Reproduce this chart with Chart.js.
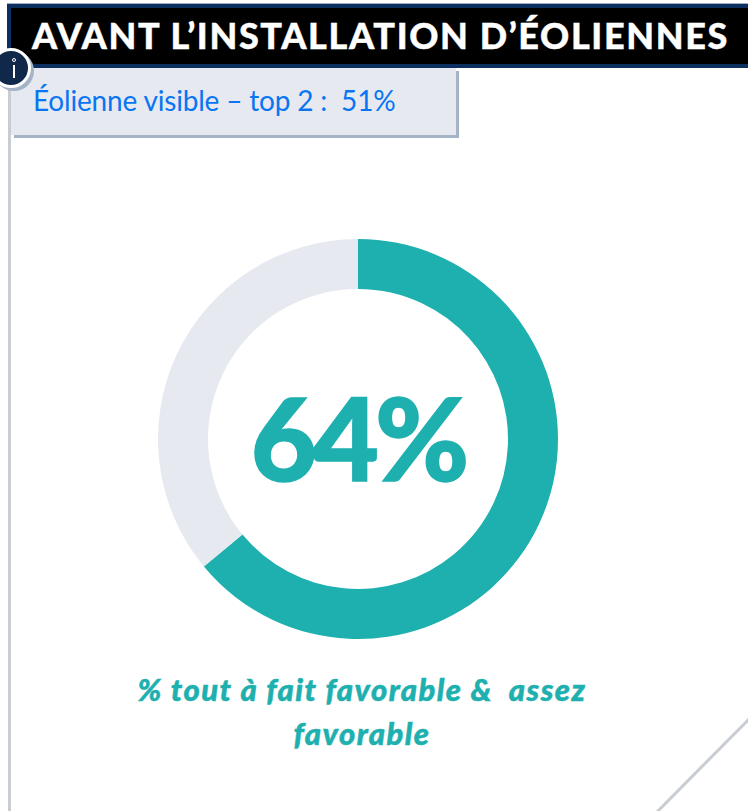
<!DOCTYPE html>
<html lang="fr"><head><meta charset="utf-8">
<script src="https://cdn.jsdelivr.net/npm/chart.js@4"></script>
<style>
html,body{margin:0;padding:0;background:#fff;width:748px;height:811px;overflow:hidden;font-family:Lato,sans-serif}
#stage{position:relative;width:748px;height:811px;overflow:hidden}
#stage>*{position:absolute}
#vline{left:8px;top:60px;width:3px;height:751px;background:#c8ccd3}
#head{left:7px;top:4px;width:741px;height:64px;box-sizing:border-box;background:#000;border-top:4px solid #0b2f5f;border-bottom:4px solid #0b2f5f;border-left:4px solid #0b2f5f;box-shadow:0 -1px 0 #9fb0c6}
#title{left:32px;top:13px;font:900 36px Lato,sans-serif;color:#fff;white-space:nowrap;letter-spacing:1.63px;-webkit-text-stroke:.4px #fff}
#sub{left:11px;top:68px;width:445px;height:67px;background:#e6e9ef;box-shadow:3px 3px 0 #a5b3c7}
#subt{left:33px;top:83px;font:400 28px Lato,sans-serif;color:#0a75f2;white-space:pre;letter-spacing:-.18px}
#info{left:-9px;top:48px;width:34px;height:34px;border-radius:50%;background:#10294a;border:3px solid #fff;box-shadow:3px 3px 0 #a5b3c7;z-index:3}
#info i{position:absolute;left:20px;top:14px;width:2px;height:13px;background:#fff;margin-left:-1px}
#info b{position:absolute;left:18px;top:7px;width:4px;height:4px;border:1px solid #fff;border-radius:50%;box-sizing:border-box}
#wrap{left:158px;top:239px;width:400px;height:400px}
#big{left:158px;width:400px;top:370px;text-align:center;font:900 114px Lato,sans-serif;color:#1eb0af;line-height:134px;letter-spacing:-4px;-webkit-text-stroke:1.5px #1eb0af}
#cap{left:62px;width:600px;top:667px;text-align:center;font:italic 900 31px/44px Lato,sans-serif;color:#1eb0af;letter-spacing:1.45px;-webkit-text-stroke:.5px #1eb0af}
#cap div{white-space:pre}
#diag{left:0;top:0}
</style></head><body>
<div id="stage">
<div id="vline"></div>
<svg id="diag" width="748" height="811"><line x1="750" y1="718" x2="656" y2="813" stroke="#c8ccd3" stroke-width="3"/></svg>
<div id="head"></div>
<div id="title"></div>
<div id="sub"></div>
<div id="subt"></div>
<div id="info"><b></b><i></i></div>
<div id="wrap"><canvas id="c" width="400" height="400"></canvas></div>
<div id="big"></div>
<div id="cap"></div>
</div>
<script>
const titleText = "AVANT L’INSTALLATION D’ÉOLIENNES";
const subtitleText = "Éolienne visible – top 2 :  51%";
const captionLines = ["% tout à fait favorable &  assez", "favorable"];
const categories = ["Favorable", "Autre"];
const values = [64, 36];
const sliceColors = ["#1eb0af", "#e6e9ef"];

document.getElementById('title').textContent = titleText;
document.getElementById('subt').textContent = subtitleText;
captionLines.forEach(function (t) {
  const d = document.createElement('div');
  d.textContent = t;
  document.getElementById('cap').appendChild(d);
});
document.getElementById('big').textContent = values[0] + '%';

new Chart(document.getElementById('c'), {
  type: 'doughnut',
  data: { labels: categories, datasets: [{ data: values, backgroundColor: sliceColors, borderWidth: 0 }] },
  options: {
    responsive: false, animation: false, cutout: '75%',
    layout: { padding: 0 },
    plugins: { legend: { display: false }, tooltip: { enabled: false }, title: { display: false } }
  }
});
</script>
</body></html>
